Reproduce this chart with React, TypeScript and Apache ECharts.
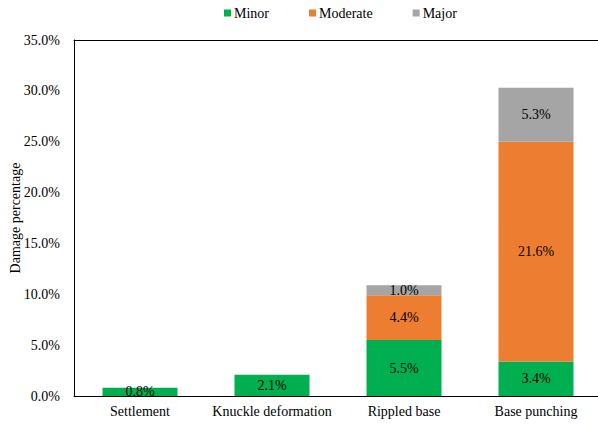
import React, { useEffect, useRef } from "react";
import * as echarts from "echarts";

const categories = ["Settlement", "Knuckle deformation", "Rippled base", "Base punching"];
const minor = [0.8, 2.1, 5.5, 3.4];
const moderate = [null, null, 4.4, 21.6];
const major = [null, null, 1.0, 5.3];
const yTicks = { min: 0, max: 35, interval: 5 };

const FONT = "'Liberation Serif', 'Times New Roman', serif";
const FS = 14;

export default function App() {
  const ref = useRef<HTMLDivElement>(null);
  useEffect(() => {
    const chart = echarts.init(ref.current!, null, { renderer: "svg" });
    const label = {
      show: true,
      position: "inside",
      color: "#000",
      fontFamily: FONT,
      fontSize: FS,
      formatter: (p: any) => (p.value == null ? "" : Number(p.value).toFixed(1) + "%"),
    };
    chart.setOption({
      animation: false,
      textStyle: { fontFamily: FONT },
      legend: {
        top: 1,
        left: 219,
        itemWidth: 7,
        itemHeight: 7,
        itemGap: 40,
        icon: "rect",
        textStyle: { fontFamily: FONT, fontSize: FS, color: "#000", padding: [0, 0, 0, -2] },
        data: ["Minor", "Moderate", "Major"],
      },
      grid: { left: 74, right: -4, top: 40, bottom: 29, containLabel: false, outerBoundsMode: "none" },
      xAxis: [
        {
          type: "category",
          data: categories,
          axisLine: { lineStyle: { color: "#000", width: 1 } },
          axisTick: { show: false },
          axisLabel: { color: "#000", fontFamily: FONT, fontSize: FS, margin: 8, interval: 0 },
        },
        {
          type: "category",
          data: categories,
          position: "top",
          axisLine: { show: true, lineStyle: { color: "#000", width: 1 } },
          axisTick: { show: false },
          axisLabel: { show: false },
        },
      ],
      yAxis: {
        type: "value",
        min: yTicks.min,
        max: yTicks.max,
        interval: yTicks.interval,
        name: "Damage percentage",
        nameLocation: "middle",
        nameGap: 52,
        nameMoveOverlap: false,
        nameTextStyle: { color: "#000", fontFamily: FONT, fontSize: FS },
        axisLine: { show: true, lineStyle: { color: "#000", width: 1 } },
        axisTick: { show: false },
        splitLine: { show: false },
        axisLabel: {
          color: "#000",
          fontFamily: FONT,
          fontSize: FS,
          margin: 14,
          formatter: (v: number) => v.toFixed(1) + "%",
        },
      },
      series: [
        { name: "Minor", type: "bar", stack: "a", data: minor, barWidth: 75, itemStyle: { color: "#00B050" }, label },
        { name: "Moderate", type: "bar", stack: "a", data: moderate, barWidth: 75, itemStyle: { color: "#ED7D31" }, label },
        { name: "Major", type: "bar", stack: "a", data: major, barWidth: 75, itemStyle: { color: "#A5A5A5" }, label },
      ],
    });
    return () => chart.dispose();
  }, []);
  return (
    <div
      ref={ref}
      style={{ position: "absolute", left: 0, top: 0, width: 598, height: 425, background: "#fff" }}
    />
  );
}
